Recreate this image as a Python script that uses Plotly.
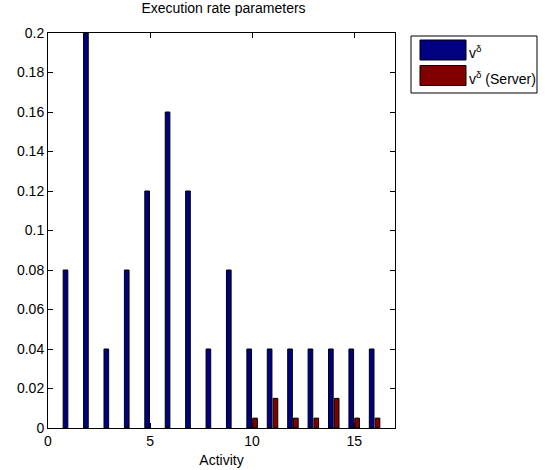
import plotly.graph_objects as go

# Activity indices and execution rate parameters
activities = list(range(1, 17))
v_delta = [0.08, 0.2, 0.04, 0.08, 0.12, 0.16, 0.12, 0.04, 0.08,
           0.04, 0.04, 0.04, 0.04, 0.04, 0.04, 0.04]
v_delta_server = [0, 0, 0, 0, 0, 0, 0, 0, 0,
                  0.005, 0.015, 0.005, 0.005, 0.015, 0.005, 0.005]

series_names = ["v<sup>δ</sup>", "v<sup>δ</sup> (Server)"]
series_colors = ["#000080", "#800000"]

x_ticks = [0, 5, 10, 15]
y_ticks = [0, 0.02, 0.04, 0.06, 0.08, 0.1, 0.12, 0.14, 0.16, 0.18, 0.2]
y_tick_text = ["0", "0.02", "0.04", "0.06", "0.08", "0.1", "0.12",
               "0.14", "0.16", "0.18", "0.2"]

FONT = "Liberation Sans, Arial, sans-serif"
FS = 14

fig = go.Figure()
for name, vals, col in zip(series_names, [v_delta, v_delta_server], series_colors):
    # zero-height bars get no outline so they leave no mark on the baseline
    edge_w = [1 if v > 0 else 0 for v in vals]
    fig.add_trace(go.Bar(
        x=activities, y=vals, name=name,
        marker=dict(color=col, line=dict(color="black", width=edge_w)),
        showlegend=False,
    ))

W, H = 545, 470
L, R, T, B = 48, 150, 33, 42
pw, ph = W - L - R, H - T - B


def px_x(x):
    return (x - L) / pw


def px_y(y):
    return (H - B - y) / ph


shapes = [
    # legend frame
    dict(type="rect", xref="paper", yref="paper",
         x0=px_x(411), x1=px_x(537), y0=px_y(93), y1=px_y(36),
         line=dict(color="black", width=1), fillcolor="white"),
]
annotations = []
for i, (name, col) in enumerate(zip(series_names, series_colors)):
    top = 40 + i * 25.5
    shapes.append(dict(type="rect", xref="paper", yref="paper",
                       x0=px_x(420), x1=px_x(466), y0=px_y(top + 20), y1=px_y(top),
                       line=dict(color="black", width=1), fillcolor=col))
    annotations.append(dict(xref="paper", yref="paper", x=px_x(467), y=px_y(top + 12),
                            xanchor="left", yanchor="middle", showarrow=False,
                            text=name, font=dict(family=FONT, size=FS, color="black")))

fig.update_layout(
    width=W, height=H,
    margin=dict(l=L, r=R, t=T, b=B, pad=0),
    paper_bgcolor="white", plot_bgcolor="white",
    barmode="group", bargap=0.4286, bargroupgap=0.2,
    font=dict(family=FONT, size=FS, color="black"),
    title=dict(text="Execution rate parameters", x=(L + pw / 2 + 2) / W, xanchor="center",
               y=1 - 8 / H, yanchor="middle", font=dict(family=FONT, size=FS)),
    xaxis=dict(range=[0, 17], tickvals=x_ticks, ticks="inside", ticklen=5,
               tickcolor="black", showline=True, linecolor="black", linewidth=1,
               mirror="ticks", showgrid=False, zeroline=False, automargin=False,
               title=dict(text="Activity", standoff=7, font=dict(size=FS)),
               tickfont=dict(size=FS)),
    yaxis=dict(range=[0, 0.2], tickvals=y_ticks, ticktext=y_tick_text,
               ticks="inside", ticklen=5, tickcolor="black",
               showline=True, linecolor="black", linewidth=1, mirror="ticks",
               showgrid=False, zeroline=False, automargin=False,
               tickfont=dict(size=FS)),
    shapes=shapes, annotations=annotations,
)

fig.write_html("out.html")
